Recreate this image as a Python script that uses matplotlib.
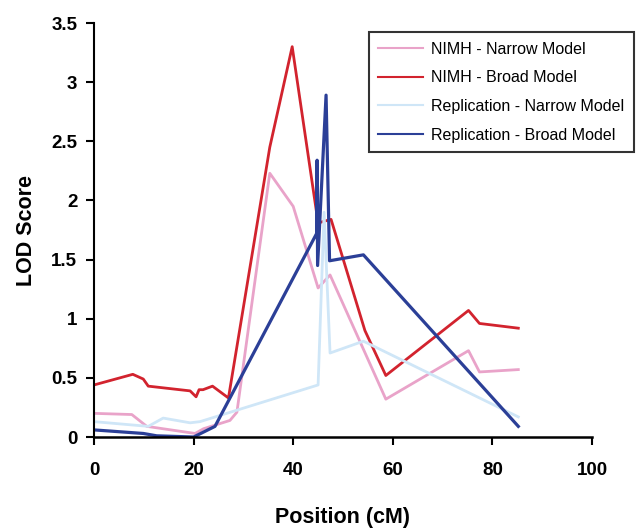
import matplotlib
matplotlib.use('Agg')
import matplotlib.pyplot as plt

plt.rcParams['font.family'] = ['Liberation Sans', 'DejaVu Sans']

# NIMH - Narrow Model
nimh_narrow_x = [0, 7.6, 10.6, 20.3, 22.0, 27.3, 28.7, 35.3, 40.0, 45.0, 47.4, 58.6, 75.2, 77.4, 85.2]
nimh_narrow_y = [0.20, 0.19, 0.09, 0.03, 0.07, 0.14, 0.21, 2.23, 1.95, 1.26, 1.37, 0.32, 0.73, 0.55, 0.57]

# NIMH - Broad Model
nimh_broad_x = [0, 7.8, 9.9, 10.9, 19.3, 20.5, 21.1, 21.9, 23.8, 27.0, 35.3, 39.8, 45.0, 45.9, 47.6, 54.4, 58.6, 75.2, 77.4, 85.2]
nimh_broad_y = [0.44, 0.53, 0.49, 0.43, 0.39, 0.34, 0.40, 0.40, 0.43, 0.33, 2.45, 3.30, 1.81, 1.82, 1.84, 0.90, 0.52, 1.07, 0.96, 0.92]

# Replication - Narrow Model
rep_narrow_x = [0, 10.9, 13.9, 19.3, 21.3, 45.0, 46.2, 47.4, 54.1, 85.2]
rep_narrow_y = [0.13, 0.09, 0.16, 0.12, 0.13, 0.44, 1.90, 0.71, 0.81, 0.17]

# Replication - Broad Model
rep_broad_x = [0, 9.9, 12.6, 20.0, 24.3, 44.7, 44.8, 44.9, 46.6, 47.3, 54.1, 85.2]
rep_broad_y = [0.06, 0.03, 0.01, 0.0, 0.09, 1.72, 2.34, 1.45, 2.89, 1.49, 1.54, 0.09]

fig = plt.figure(figsize=(6.41, 5.29), dpi=100)
ax = fig.add_axes([0.1466, 0.1739, 0.777, 0.7826])

ax.plot(nimh_narrow_x, nimh_narrow_y, color='#e9a3c9', lw=2, label='NIMH - Narrow Model')
ax.plot(nimh_broad_x, nimh_broad_y, color='#d2232e', lw=2, label='NIMH - Broad Model')
ax.plot(rep_narrow_x, rep_narrow_y, color='#cfe6f7', lw=2, label='Replication - Narrow Model')
ax.plot(rep_broad_x, rep_broad_y, color='#2b3f97', lw=2.3, label='Replication - Broad Model')

ax.set_xlim(0, 100)
ax.set_ylim(0, 3.5)
ax.set_xticks([0, 20, 40, 60, 80, 100])
ax.set_yticks([0, 0.5, 1, 1.5, 2, 2.5, 3, 3.5])
ax.set_yticklabels(['0', '0.5', '1', '1.5', '2', '2.5', '3', '3.5'])
ax.spines['top'].set_visible(False)
ax.spines['right'].set_visible(False)
ax.spines['left'].set_linewidth(1.5)
ax.spines['bottom'].set_linewidth(1.8)
ax.tick_params(axis='both', direction='out', length=6, width=1.5, labelsize=13.5, pad=6)
for lab in ax.get_xticklabels() + ax.get_yticklabels():
    lab.set_fontweight('bold')
ax.tick_params(axis='x', pad=12)

ax.set_xlabel('Position (cM)', fontsize=15.5, fontweight='bold', labelpad=20)
ax.set_ylabel('LOD Score', fontsize=15.5, fontweight='bold', labelpad=10)

leg = ax.legend(loc='upper left', bbox_to_anchor=(0.536, 0.997), fontsize=11.5,
                frameon=True, fancybox=False, handlelength=2.8, borderpad=0.6,
                labelspacing=0.85, handletextpad=0.5)
leg.get_frame().set_edgecolor('black')
leg.get_frame().set_linewidth(1.5)
for line in leg.get_lines():
    line.set_linewidth(1.5)

fig.savefig('out.png', dpi=100)
